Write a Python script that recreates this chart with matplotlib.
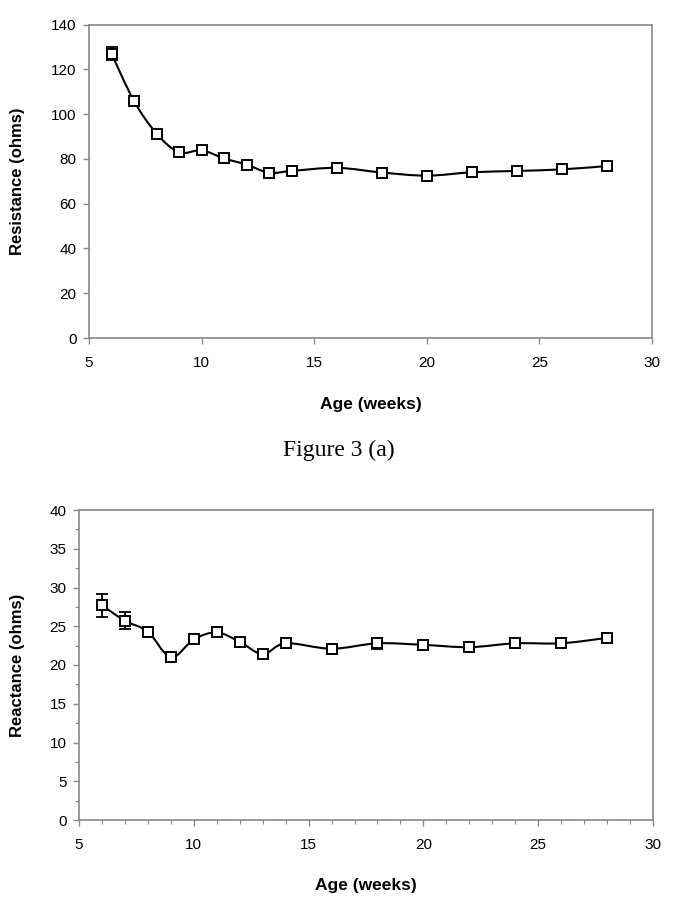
import numpy as np
import matplotlib
matplotlib.use("Agg")
import matplotlib.pyplot as plt
from matplotlib.path import Path
from matplotlib.patches import PathPatch
from matplotlib.ticker import MultipleLocator

plt.rcParams['font.family'] = ['Liberation Sans', 'DejaVu Sans']

## ---- data ---- ##
age = [6, 7, 8, 9, 10, 11, 12, 13, 14, 16, 18, 20, 22, 24, 26, 28]

resistance = [127.0, 105.8, 91.3, 82.9, 83.8, 80.2, 77.4, 73.8, 74.6, 76.0, 73.9, 72.5, 74.0, 74.6, 75.3, 76.8]
resistance_err = [2.8, 1.3, 1.2, 1.0, 1.0, 1.0, 1.0, 1.0, 1.0, 1.0, 1.0, 0.8, 0.8, 1.0, 1.0, 1.0]

reactance = [27.7, 25.7, 24.3, 21.0, 23.3, 24.2, 23.0, 21.4, 22.8, 22.1, 22.8, 22.6, 22.3, 22.8, 22.8, 23.5]
reactance_err = [1.5, 1.1, 0.6, 0.3, 0.3, 0.4, 0.3, 0.3, 0.3, 0.3, 0.7, 0.6, 0.3, 0.6, 0.6, 0.5]


def smooth_path(x, y):
    """Excel style smoothed line: Catmull-Rom segments as cubic beziers"""
    n = len(x)
    verts = [(x[0], y[0])]
    codes = [Path.MOVETO]
    for i in range(n - 1):
        a = max(i - 1, 0)
        d = min(i + 2, n - 1)
        c1 = (x[i] + (x[i + 1] - x[a]) / 6.0, y[i] + (y[i + 1] - y[a]) / 6.0)
        c2 = (x[i + 1] - (x[d] - x[i]) / 6.0, y[i + 1] - (y[d] - y[i]) / 6.0)
        verts += [c1, c2, (x[i + 1], y[i + 1])]
        codes += [Path.CURVE4] * 3
    return Path(verts, codes)


def draw_panel(ax, y, yerr, ymax, ystep, ylabel, minor=False):
    ax.add_patch(PathPatch(smooth_path(age, y), facecolor='none',
                           edgecolor='black', lw=1.5, zorder=2))
    ax.errorbar(age, y, yerr=yerr, fmt='none', ecolor='black',
                elinewidth=1.3, capsize=4.5, capthick=1.3, zorder=3)
    ax.plot(age, y, linestyle='none', marker='s', markersize=7,
            markerfacecolor='white', markeredgecolor='black',
            markeredgewidth=1.4, zorder=4)

    ax.set_xlim(5, 30)
    ax.set_ylim(0, ymax)
    ax.xaxis.set_major_locator(MultipleLocator(5))
    ax.yaxis.set_major_locator(MultipleLocator(ystep))
    if minor:
        ax.xaxis.set_minor_locator(MultipleLocator(1))
        ax.yaxis.set_minor_locator(MultipleLocator(ystep / 2))

    for s in ax.spines.values():
        s.set_color('#888888')
        s.set_linewidth(1.2)
    ax.tick_params(which='major', direction='out', length=4, width=1,
                   color='#888888', labelsize=11)
    ax.tick_params(which='minor', direction='out', length=3, width=0.8,
                   color='#888888')
    ax.tick_params(axis='x', pad=9)
    ax.tick_params(axis='y', pad=5)

    ax.set_xlabel('Age (weeks)', fontsize=12.5, fontweight='bold')
    ax.set_ylabel(ylabel, fontsize=12, fontweight='bold')


fig = plt.figure(figsize=(6.78, 8.98), dpi=100)

ax1 = fig.add_axes([89 / 678, 1 - 338 / 898, 563 / 678, 313.5 / 898])
draw_panel(ax1, resistance, resistance_err, 140, 20, 'Resistance (ohms)')
ax1.yaxis.set_label_coords(-0.114, 0.5)
ax1.xaxis.set_label_coords(0.5, -0.188)

fig.text(0.5, 1 - 450 / 898, 'Figure 3 (a)', ha='center', va='center',
         fontsize=17, family=['Liberation Serif', 'DejaVu Serif'])

ax2 = fig.add_axes([79 / 678, 1 - 820 / 898, 574 / 678, 310 / 898])
draw_panel(ax2, reactance, reactance_err, 40, 5, 'Reactance (ohms)', minor=True)
ax2.yaxis.set_label_coords(-0.094, 0.5)
ax2.xaxis.set_label_coords(0.5, -0.187)

fig.savefig('out.png', dpi=100)
